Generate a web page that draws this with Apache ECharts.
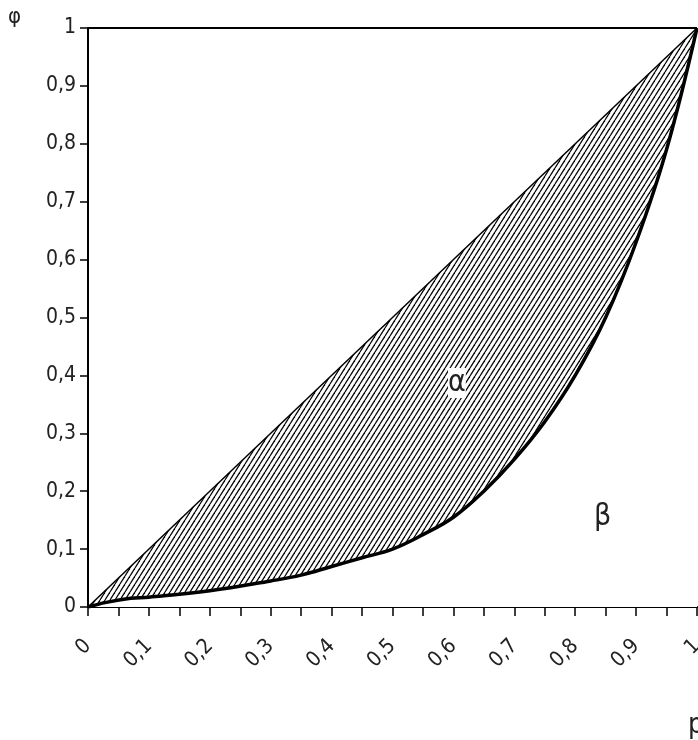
<!DOCTYPE html>
<html><head><meta charset="utf-8">
<script src="https://cdn.jsdelivr.net/npm/echarts@6/dist/echarts.min.js"></script>
<style>html,body{margin:0;padding:0;background:#fff}#c{width:698px;height:740px}</style>
</head><body><div id="c"></div>
<script>
// Lorenz curve values
const pValues = [0, 0.03, 0.07, 0.1, 0.2, 0.3, 0.35, 0.4, 0.45, 0.5, 0.55, 0.6, 0.65, 0.7, 0.75, 0.8, 0.85, 0.9, 0.95, 1]
const phiValues = [0, 0.008, 0.015, 0.017, 0.028, 0.045, 0.055, 0.07, 0.085, 0.1, 0.125, 0.155, 0.2, 0.255, 0.32, 0.4, 0.5, 0.63, 0.79, 1]
const diagonal = [[0, 0], [1, 1]]

// hatch pattern
const hatch = document.createElement('canvas')
const hw = 5, hh = 8
hatch.width = hw; hatch.height = hh
const ctx = hatch.getContext('2d')
ctx.fillStyle = '#fff'; ctx.fillRect(0, 0, hw, hh)
ctx.strokeStyle = '#000'; ctx.lineWidth = 1.2
for (let o = -hw; o <= hw; o += hw) {
  ctx.beginPath(); ctx.moveTo(o, hh); ctx.lineTo(o + hw, 0); ctx.stroke()
}

let chart = echarts.init(document.getElementById('c'))
const fmt = v => String(Math.round(v * 10) / 10).replace('.', ',')
const font = '"DejaVu Sans Condensed", "Liberation Sans", sans-serif'
const txt = (t, x, y, s) => ({ type: 'text', left: x, top: y, z: 10,
  style: { text: t, fontSize: s, fontFamily: font, fill: '#222', backgroundColor: '#fff' } })
var option = {
  animation: false,
  grid: { left: 88, top: 28, right: 1, bottom: 133, outerBoundsMode: 'none', containLabel: false },
  xAxis: {
    type: 'value', min: 0, max: 1, interval: 0.05,
    axisLine: { onZero: false, lineStyle: { color: '#000', width: 2 } },
    axisTick: { lineStyle: { color: '#000', width: 1.5 }, length: 9 },
    splitLine: { show: false },
    axisLabel: {
      rotate: 45, margin: 36, color: '#222', fontSize: 21, fontFamily: font,
      formatter: v => (Math.round(v * 100) % 10 === 0 ? fmt(v) : '')
    }
  },
  yAxis: {
    type: 'value', min: 0, max: 1, interval: 0.1,
    axisLine: { show: true, lineStyle: { color: '#000', width: 2 } },
    axisTick: { show: true, lineStyle: { color: '#000', width: 1.5 }, length: 8 },
    splitLine: { show: false },
    axisLabel: { color: '#222', fontSize: 21, fontFamily: font, margin: 12, formatter: fmt }
  },
  series: [{
    type: 'line', data: [[0, 1], [1, 1]], symbol: 'none',
    lineStyle: { color: '#000', width: 2 }
  }, {
    type: 'line', data: diagonal, symbol: 'none',
    lineStyle: { color: '#000', width: 1.5 },
    areaStyle: { color: { image: hatch, repeat: 'repeat' }, opacity: 1 }
  }, {
    type: 'line', data: pValues.map((p, i) => [p, phiValues[i]]), symbol: 'none', smooth: 0.4,
    lineStyle: { color: '#000', width: 3.5 },
    areaStyle: { color: '#fff', opacity: 1 }
  }],
  graphic: [
    txt('φ', 8, 6, 22),
    txt('p', 688, 712, 28),
    txt('α', 448, 368, 30),
    txt('β', 594, 502, 30)
  ]
}
chart.setOption(option)
</script></body></html>
